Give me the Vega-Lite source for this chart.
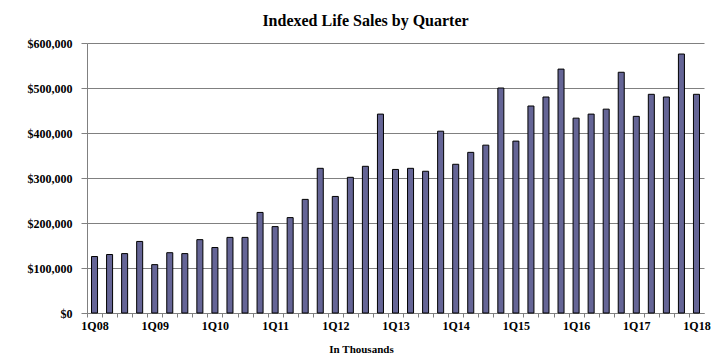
{
  "$schema": "https://vega.github.io/schema/vega-lite/v6.json",
  "autosize": "none",
  "width": 617,
  "height": 270,
  "padding": {"left": 87, "top": 43, "right": 17, "bottom": 44},
  "background": "white",
  "config": {"view": {"stroke": null}},
  "title": {
    "text": "Indexed Life Sales by Quarter",
    "font": "Liberation Serif",
    "fontSize": 16,
    "fontWeight": "bold",
    "color": "black",
    "anchor": "middle",
    "dx": -30,
    "offset": 8
  },
  "data": {
    "values": [
      {"q": "1Q08", "sales": 125500}, {"q": "2Q08", "sales": 130000}, {"q": "3Q08", "sales": 132000}, {"q": "4Q08", "sales": 159000},
      {"q": "1Q09", "sales": 107500}, {"q": "2Q09", "sales": 134000}, {"q": "3Q09", "sales": 132000}, {"q": "4Q09", "sales": 163000},
      {"q": "1Q10", "sales": 145500}, {"q": "2Q10", "sales": 168000}, {"q": "3Q10", "sales": 168000}, {"q": "4Q10", "sales": 223500},
      {"q": "1Q11", "sales": 192000}, {"q": "2Q11", "sales": 212000}, {"q": "3Q11", "sales": 252500}, {"q": "4Q11", "sales": 321500},
      {"q": "1Q12", "sales": 259000}, {"q": "2Q12", "sales": 301500}, {"q": "3Q12", "sales": 326000}, {"q": "4Q12", "sales": 442000},
      {"q": "1Q13", "sales": 319000}, {"q": "2Q13", "sales": 321500}, {"q": "3Q13", "sales": 315000}, {"q": "4Q13", "sales": 404000},
      {"q": "1Q14", "sales": 330500}, {"q": "2Q14", "sales": 357000}, {"q": "3Q14", "sales": 373000}, {"q": "4Q14", "sales": 500000},
      {"q": "1Q15", "sales": 382000}, {"q": "2Q15", "sales": 460000}, {"q": "3Q15", "sales": 480000}, {"q": "4Q15", "sales": 542000},
      {"q": "1Q16", "sales": 433000}, {"q": "2Q16", "sales": 442000}, {"q": "3Q16", "sales": 453000}, {"q": "4Q16", "sales": 535000},
      {"q": "1Q17", "sales": 437000}, {"q": "2Q17", "sales": 486000}, {"q": "3Q17", "sales": 480000}, {"q": "4Q17", "sales": 575500},
      {"q": "1Q18", "sales": 486000}
    ]
  },
  "mark": {"type": "bar", "fill": "#656596", "stroke": "black", "strokeWidth": 1},
  "encoding": {
    "x": {
      "field": "q",
      "type": "nominal",
      "sort": null,
      "scale": {"paddingInner": 0.6, "paddingOuter": 0.3},
      "axis": {
        "title": "In Thousands",
        "titleFont": "Liberation Serif",
        "titleFontSize": 11,
        "titleFontWeight": "bold",
        "titleColor": "black",
        "titleX": 274,
        "titlePadding": 12,
        "labelExpr": "indexof(datum.value, '1Q') == 0 ? datum.value : ''",
        "labelAngle": 0,
        "labelOverlap": false,
        "labelFont": "Liberation Serif",
        "labelFontSize": 12,
        "labelFontWeight": "bold",
        "labelColor": "black",
        "labelPadding": 3,
        "labelOffset": 7.5,
        "tickSize": 4,
        "tickOffset": -7.5,
        "tickColor": "#808080",
        "domainColor": "#808080",
        "grid": false
      }
    },
    "y": {
      "field": "sales",
      "type": "quantitative",
      "scale": {"domain": [0, 600000], "nice": false},
      "axis": {
        "title": null,
        "values": [0, 100000, 200000, 300000, 400000, 500000, 600000],
        "format": "$,.0f",
        "labelFont": "Liberation Serif",
        "labelFontSize": 12,
        "labelFontWeight": "bold",
        "labelColor": "black",
        "labelPadding": 9,
        "tickSize": 6,
        "tickColor": "#808080",
        "domainColor": "#808080",
        "gridColor": "#808080",
        "gridOpacity": 1
      }
    }
  }
}
